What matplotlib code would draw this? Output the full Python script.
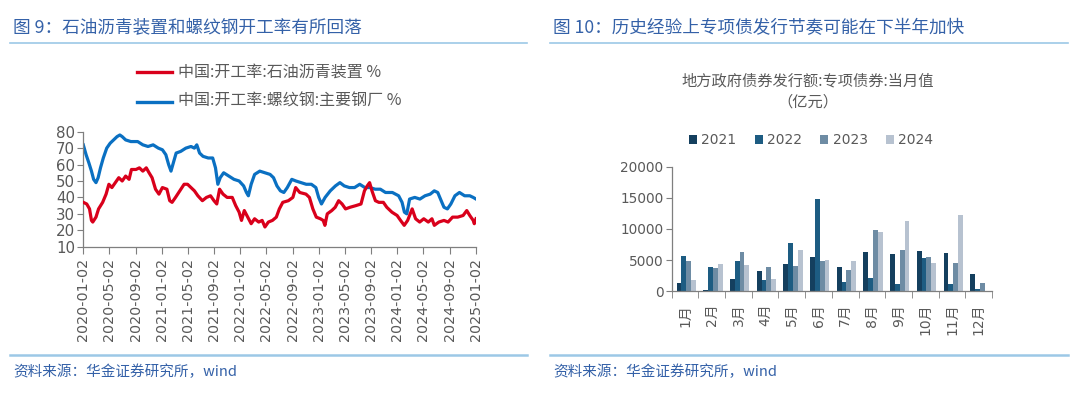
import matplotlib
matplotlib.use("Agg")
import matplotlib.pyplot as plt
import matplotlib.dates as mdates
import numpy as np
import pandas as pd
from matplotlib.lines import Line2D

plt.rcParams["font.family"] = ["Noto Sans CJK SC", "DejaVu Sans"]
plt.rcParams["axes.unicode_minus"] = False

# ---- figure 9: operating rates ----
steel_dates = [
    "2020-01-02", "2020-01-15", "2020-01-28", "2020-02-09", "2020-02-19", "2020-03-01",
    "2020-03-11", "2020-03-22", "2020-04-04", "2020-04-20", "2020-05-06", "2020-05-22",
    "2020-06-07", "2020-06-20", "2020-07-01", "2020-07-17", "2020-08-10", "2020-09-11",
    "2020-10-05", "2020-10-29", "2020-11-22", "2020-12-16", "2021-01-04", "2021-01-20",
    "2021-02-02", "2021-02-13", "2021-02-26", "2021-03-09", "2021-03-30", "2021-04-23",
    "2021-05-17", "2021-06-02", "2021-06-13", "2021-06-26", "2021-07-12", "2021-08-05",
    "2021-08-26", "2021-09-08", "2021-09-19", "2021-09-30", "2021-10-16", "2021-11-09",
    "2021-12-03", "2021-12-27", "2022-01-17", "2022-01-30", "2022-02-08", "2022-02-21",
    "2022-03-09", "2022-04-02", "2022-04-26", "2022-05-20", "2022-06-05", "2022-06-21",
    "2022-07-07", "2022-07-23", "2022-08-08", "2022-08-29", "2022-09-17", "2022-10-11",
    "2022-11-04", "2022-11-28", "2022-12-19", "2023-01-01", "2023-01-14", "2023-01-31",
    "2023-02-24", "2023-03-20", "2023-04-10", "2023-04-30", "2023-05-24", "2023-06-17",
    "2023-07-11", "2023-08-04", "2023-08-28", "2023-09-21", "2023-10-15", "2023-11-08",
    "2023-12-10", "2024-01-08", "2024-01-24", "2024-02-04", "2024-02-15", "2024-02-28",
    "2024-03-23", "2024-04-16", "2024-05-10", "2024-06-03", "2024-06-22", "2024-07-08",
    "2024-07-24", "2024-08-06", "2024-08-22", "2024-09-07", "2024-09-26", "2024-10-17",
    "2024-11-10", "2024-12-04", "2024-12-20", "2025-01-02",
]
steel_rate = [
    72, 66, 61, 56, 51, 49, 52, 58, 64, 70, 73, 75, 77, 78, 77, 75, 74, 74,
    72, 71, 72, 70, 69, 66, 60, 56, 62, 67, 68, 70, 71, 70, 72, 67, 65, 64,
    64, 58, 48, 52, 55, 53, 51, 50, 47, 43, 41, 48, 54, 56, 55, 54, 52, 47,
    44, 43, 46, 51, 50, 49, 48, 48, 46, 40, 36, 40, 44, 47, 49, 47, 46, 46,
    48, 46, 46, 45, 45, 43, 43, 41, 37, 31, 30, 39, 40, 39, 41, 42, 44, 43,
    38, 34, 33, 36, 41, 43, 41, 41, 40, 39,
]

asphalt_dates = [
    "2020-01-02", "2020-01-18", "2020-01-31", "2020-02-09", "2020-02-15", "2020-03-01",
    "2020-03-13", "2020-04-01", "2020-04-17", "2020-04-30", "2020-05-14", "2020-05-30",
    "2020-06-15", "2020-07-01", "2020-07-17", "2020-08-02", "2020-08-13", "2020-09-03",
    "2020-09-19", "2020-10-05", "2020-10-21", "2020-11-03", "2020-11-17", "2020-12-03",
    "2020-12-19", "2021-01-04", "2021-01-25", "2021-02-07", "2021-02-18", "2021-03-06",
    "2021-03-26", "2021-04-15", "2021-05-01", "2021-05-17", "2021-06-02", "2021-06-18",
    "2021-07-09", "2021-07-28", "2021-08-16", "2021-09-01", "2021-09-14", "2021-09-27",
    "2021-10-13", "2021-11-01", "2021-11-25", "2021-12-11", "2021-12-27", "2022-01-07",
    "2022-01-20", "2022-02-05", "2022-02-21", "2022-03-09", "2022-03-28", "2022-04-13",
    "2022-04-26", "2022-05-12", "2022-05-31", "2022-06-18", "2022-07-02", "2022-07-18",
    "2022-08-13", "2022-09-03", "2022-09-16", "2022-10-05", "2022-11-03", "2022-11-19",
    "2022-12-05", "2022-12-21", "2023-01-09", "2023-01-22", "2023-01-30", "2023-02-10",
    "2023-03-03", "2023-03-19", "2023-04-04", "2023-04-20", "2023-05-06", "2023-05-27",
    "2023-06-23", "2023-07-17", "2023-08-02", "2023-08-15", "2023-08-26", "2023-09-06",
    "2023-09-22", "2023-10-08", "2023-10-29", "2023-11-14", "2023-12-08", "2024-01-01",
    "2024-01-17", "2024-02-03", "2024-02-19", "2024-03-11", "2024-03-27", "2024-04-15",
    "2024-05-04", "2024-05-25", "2024-06-11", "2024-06-22", "2024-07-13", "2024-08-06",
    "2024-08-25", "2024-09-15", "2024-10-09", "2024-11-03", "2024-11-20", "2024-12-04",
    "2024-12-20", "2024-12-25", "2025-01-02",
]
asphalt_rate = [
    37, 36, 33, 26, 25, 28, 33, 37, 42, 48, 46, 49, 52, 50, 53, 51, 57, 57,
    58, 56, 58, 55, 52, 45, 42, 46, 45, 38, 37, 40, 44, 48, 48, 46, 44, 41,
    38, 40, 41, 38, 36, 45, 42, 40, 40, 35, 31, 26, 32, 28, 24, 27, 25, 26,
    22, 25, 26, 28, 33, 37, 38, 40, 46, 43, 42, 40, 33, 28, 27, 26, 23, 30,
    32, 34, 38, 36, 33, 34, 35, 36, 44, 47, 49, 44, 38, 37, 37, 34, 31, 29,
    26, 23, 26, 33, 27, 25, 27, 25, 27, 23, 25, 26, 25, 28, 28, 29, 32, 29,
    26, 24, 27,
]

legend_9 = ["中国:开工率:石油沥青装置 %", "中国:开工率:螺纹钢:主要钢厂 %"]
date_ticks = [
    "2020-01-02", "2020-05-02", "2020-09-02", "2021-01-02", "2021-05-02", "2021-09-02",
    "2022-01-02", "2022-05-02", "2022-09-02", "2023-01-02", "2023-05-02", "2023-09-02",
    "2024-01-02", "2024-05-02", "2024-09-02", "2025-01-02",
]

# ---- figure 10: special bond issuance, 100 million yuan ----
months = ["1月", "2月", "3月", "4月", "5月", "6月", "7月", "8月", "9月", "10月", "11月", "12月"]
years = ["2021", "2022", "2023", "2024"]
bond_2021 = [1390, 200, 1930, 3320, 4440, 5510, 3960, 6310, 5940, 6420, 6200, 2730]
bond_2022 = [5670, 3850, 4810, 1820, 7700, 14810, 1500, 2090, 1120, 5350, 1120, 430]
bond_2023 = [4920, 3740, 6360, 3960, 4060, 4810, 3420, 9790, 6630, 5560, 4490, 1280]
bond_2024 = [1820, 4390, 4280, 2030, 6630, 4970, 4870, 9520, 11230, 4550, 12300, 0]

TITLE_C = "#3461a8"
RULE_C = "#9cc8e6"
TEXT_C = "#595959"
AXIS_C = "#7f7f7f"
RED = "#d9001b"
BLUE = "#0a70c2"
BAR_COLORS = ["#143f5e", "#1d5c82", "#6e8ca4", "#b7c2d0"]
NUM_FONT = "DejaVu Sans"

W, H = 1080, 393
fig = plt.figure(figsize=(W / 100, H / 100), dpi=100)


def fx(px):
    return px / W


def fy(py):
    return 1 - py / H


def panel_frame(x0, x1, title):
    fig.text(fx(x0 + 3), fy(28), title, color=TITLE_C, fontsize=12.7, va="center", ha="left")
    fig.add_artist(Line2D([fx(x0), fx(x1)], [fy(43), fy(43)], color=RULE_C, lw=1.2))
    fig.add_artist(Line2D([fx(x0), fx(x1)], [fy(355), fy(355)], color=RULE_C, lw=1.8))
    fig.text(fx(x0 + 3), fy(372), "资料来源：华金证券研究所，wind", color=TITLE_C,
             fontsize=10.5, style="italic", va="center", ha="left")


def style_axes(ax):
    for s in ["top", "right"]:
        ax.spines[s].set_visible(False)
    for s in ["left", "bottom"]:
        ax.spines[s].set_color(AXIS_C)
        ax.spines[s].set_linewidth(0.9)


panel_frame(10, 527, "图 9：石油沥青装置和螺纹钢开工率有所回落")
panel_frame(550, 1068, "图 10：历史经验上专项债发行节奏可能在下半年加快")

# left chart
ax1 = fig.add_axes([fx(83.3), fy(246.7), fx(476) - fx(83.3), fy(131.7) - fy(246.7)])
ax1.plot(pd.to_datetime(steel_dates), steel_rate, color=BLUE, lw=2.3, zorder=2)
ax1.plot(pd.to_datetime(asphalt_dates), asphalt_rate, color=RED, lw=2.3, zorder=3)
ax1.set_xlim(pd.Timestamp("2020-01-02"), pd.Timestamp("2025-01-02"))
ax1.set_ylim(10, 80)
ax1.set_yticks(range(10, 81, 10))
ax1.set_xticks(pd.to_datetime(date_ticks))
ax1.xaxis.set_major_formatter(mdates.DateFormatter("%Y-%m-%d"))
style_axes(ax1)
ax1.tick_params(axis="x", rotation=90, labelsize=10.3, colors=AXIS_C, labelcolor=TEXT_C,
                length=5, direction="out", pad=3, labelfontfamily=NUM_FONT)
ax1.tick_params(axis="y", labelsize=10.8, colors=AXIS_C, labelcolor=TEXT_C,
                length=4, direction="out", pad=2, labelfontfamily=NUM_FONT)

for i, (lab, col) in enumerate(zip(legend_9, [RED, BLUE])):
    yy = fy(72 + 29.5 * i)
    fig.add_artist(Line2D([fx(137), fx(172)], [yy, yy], color=col, lw=2.4))
    fig.text(fx(178), yy, lab, color=TEXT_C, fontsize=11.5, va="center", ha="left")

# right chart
ax2 = fig.add_axes([fx(671.7), fy(291.3), fx(992) - fx(671.7), fy(166.7) - fy(291.3)])
x = np.arange(len(months))
bw = 0.18
for k, (vals, col) in enumerate(zip([bond_2021, bond_2022, bond_2023, bond_2024], BAR_COLORS)):
    ax2.bar(x - 0.3 + (k + 0.5) * bw - 0.015, vals, width=bw, color=col, label=years[k])
ax2.set_xlim(-0.5, len(months) - 0.5)
ax2.set_ylim(0, 20000)
ax2.set_yticks(range(0, 20001, 5000))
ax2.set_xticks(x)
ax2.set_xticklabels(months, rotation=90)
ax2.set_xticks(np.arange(-0.5, len(months), 1), minor=True)
style_axes(ax2)
ax2.tick_params(axis="x", which="major", length=0, labelsize=10, labelcolor=TEXT_C, pad=9,
                labelfontfamily=["DejaVu Sans", "Noto Sans CJK SC"])
ax2.tick_params(axis="x", which="minor", length=5, colors=AXIS_C, direction="out")
ax2.tick_params(axis="y", labelsize=9.8, colors=AXIS_C, labelcolor=TEXT_C,
                length=4, direction="out", pad=2, labelfontfamily=NUM_FONT)

fig.text(fx(808), fy(81), "地方政府债券发行额:专项债券:当月值", color=TEXT_C, fontsize=11,
         ha="center", va="center")
fig.text(fx(808), fy(102.5), "（亿元）", color=TEXT_C, fontsize=11, ha="center", va="center")
fig.legend(*ax2.get_legend_handles_labels(), loc="center", bbox_to_anchor=(fx(811), fy(140)),
           ncol=4, frameon=False, prop={"family": NUM_FONT, "size": 10},
           handlelength=0.6, handleheight=0.6, handletextpad=0.3, columnspacing=1.3,
           labelcolor=TEXT_C)

fig.savefig("out.png", dpi=100)
